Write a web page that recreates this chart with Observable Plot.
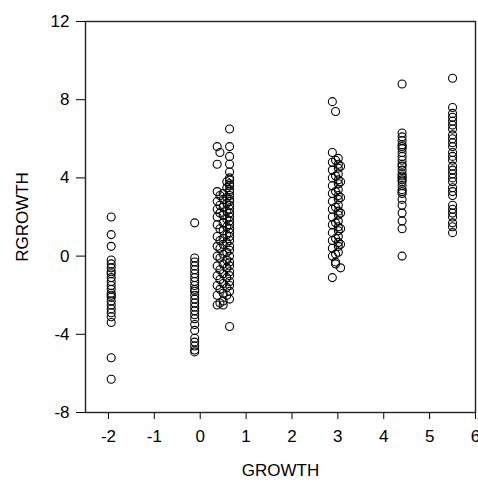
<!DOCTYPE html>
<html>
<head>
<meta charset="utf-8">
<script src="https://cdn.jsdelivr.net/npm/d3@7"></script>
<script src="https://cdn.jsdelivr.net/npm/@observablehq/plot@0.6"></script>
<style>
  html, body { margin: 0; padding: 0; background: #fff; }
  #chart svg { display: block; }
</style>
</head>
<body>
<div id="chart"></div>
<script>
// Cluster x positions (GROWTH) and RGROWTH values
const c1x = -1.94;
const c1y = [2.0, 1.1, 0.5, -0.2, -0.4, -0.6, -0.8, -0.9, -1.1, -1.3, -1.5, -1.7, -1.9, -2.0, -2.1, -2.3, -2.5, -2.7, -2.9, -3.1, -3.4, -5.2, -6.3];

const c2x = -0.12;
const c2y = [1.7, -0.1, -0.3, -0.5, -0.7, -0.9, -1.1, -1.3, -1.5, -1.7, -1.8, -2.0, -2.2, -2.4, -2.6, -2.8, -3.0, -3.2, -3.5, -3.8, -4.2, -4.4, -4.6, -4.8, -4.9];

const c3aX = 0.64;
const c3aY = [6.5, 5.6, 5.1, 4.7, 4.3, 4.0, 3.9, 3.7, 3.6, 3.4, 3.3, 3.1, 2.9, 2.8, 2.6, 2.4, 2.2, 2.0, 1.8, 1.6, 1.4, 1.2, 1.0, 0.8, 0.5, 0.3, 0.0, -0.3, -0.5, -0.8, -1.0, -1.3, -1.5, -1.8, -2.2, -3.6];
const c3bX = 0.58;
const c3bY = [3.8, 3.5, 3.0, 2.7, 2.3, 1.9, 1.5, 1.1, 0.7, 0.2, -0.2, -0.6, -1.1, -1.6, -2.0];
const c3cX = 0.50;
const c3cY = [3.2, 2.9, 2.5, 2.1, 1.7, 1.3, 0.9, 0.6, 0.1, -0.4, -0.9, -1.4, -1.9, -2.3, -2.5];
const c3dX = 0.43;
const c3dY = [5.3, 3.1, 2.6, 2.2, 1.4, 0.8, 0.4, -0.1, -0.7, -1.2, -1.7, -2.4];
const c3eX = 0.37;
const c3eY = [5.6, 4.7, 3.3, 2.8, 2.4, 2.0, 1.6, 1.0, 0.5, 0.0, -0.5, -1.0, -1.5, -2.0, -2.5];

const c4aX = 2.88;
const c4aY = [7.9, 5.3, 4.8, 4.4, 4.0, 3.6, 3.2, 2.8, 2.4, 2.0, 1.6, 1.2, 0.8, 0.4, 0.0, -1.1];
const c4bX = 2.95;
const c4bY = [7.4, 4.9, 4.1, 3.3, 2.5, 1.7, 0.9, 0.1, -0.3, -0.4];
const c4cX = 3.01;
const c4cY = [5.0, 4.7, 4.5, 4.2, 3.9, 3.7, 3.4, 3.1, 2.9, 2.6, 2.3, 2.1, 1.8, 1.5, 1.3, 1.0, 0.7, 0.5, 0.2];
const c4dX = 3.06;
const c4dY = [4.6, 3.8, 3.0, 2.2, 1.4, 0.6, -0.6];

const c5x = 4.40;
const c5y = [8.8, 6.3, 6.1, 5.9, 5.7, 5.6, 5.5, 5.3, 5.1, 4.9, 4.7, 4.6, 4.4, 4.2, 4.1, 4.0, 3.9, 3.8, 3.6, 3.4, 3.3, 3.2, 2.9, 2.6, 2.2, 1.8, 1.4, 0.0];

const c6x = 5.50;
const c6y = [9.1, 7.6, 7.3, 7.1, 6.9, 6.7, 6.5, 6.2, 6.0, 5.8, 5.6, 5.3, 5.1, 4.9, 4.6, 4.4, 4.2, 4.0, 3.8, 3.5, 3.3, 3.1, 2.6, 2.4, 2.2, 2.0, 1.7, 1.5, 1.2];

const xTicks = [-2, -1, 0, 1, 2, 3, 4, 5, 6];
const yTicks = [-8, -4, 0, 4, 8, 12];

const groups = [
  [c1x, c1y], [c2x, c2y],
  [c3aX, c3aY], [c3bX, c3bY], [c3cX, c3cY], [c3dX, c3dY], [c3eX, c3eY],
  [c4aX, c4aY], [c4bX, c4bY], [c4cX, c4cY], [c4dX, c4dY],
  [c5x, c5y], [c6x, c6y]
];
const data = groups.flatMap(([gx, ys]) => ys.map(v => ({growth: gx, rgrowth: v})));

const font = "'Liberation Sans', Arial, Helvetica, sans-serif";

const chart = Plot.plot({
  width: 478,
  height: 484,
  marginLeft: 85,
  marginRight: 3,
  marginTop: 21,
  marginBottom: 72,
  style: {fontFamily: font, fontSize: "17px", color: "black", background: "white"},
  x: {domain: [-2.5, 6.0], ticks: xTicks, tickFormat: d => String(d), label: null},
  y: {domain: [-8, 12], ticks: yTicks, tickFormat: d => String(d), label: null},
  marks: [
    Plot.axisX({ticks: xTicks, tickSize: 7, tickPadding: 10, tickFormat: d => String(d), label: null, fontSize: 17}),
    Plot.axisY({ticks: yTicks, tickSize: 9, tickPadding: 7, tickFormat: d => String(d), label: null, fontSize: 17}),
    Plot.frame({stroke: "#222", strokeWidth: 1.4}),
    Plot.dot(data, {x: "growth", y: "rgrowth", r: 4, stroke: "black", strokeWidth: 1.1, fill: "none"}),
    Plot.text(["GROWTH"], {frameAnchor: "bottom", dy: 58, lineAnchor: "middle", textAnchor: "middle", text: d => d, fontSize: 17}),
    Plot.text(["RGROWTH"], {frameAnchor: "left", dx: -63, rotate: -90, textAnchor: "middle", text: d => d, fontSize: 17})
  ]
});
document.getElementById("chart").appendChild(chart);
</script>
</body>
</html>
